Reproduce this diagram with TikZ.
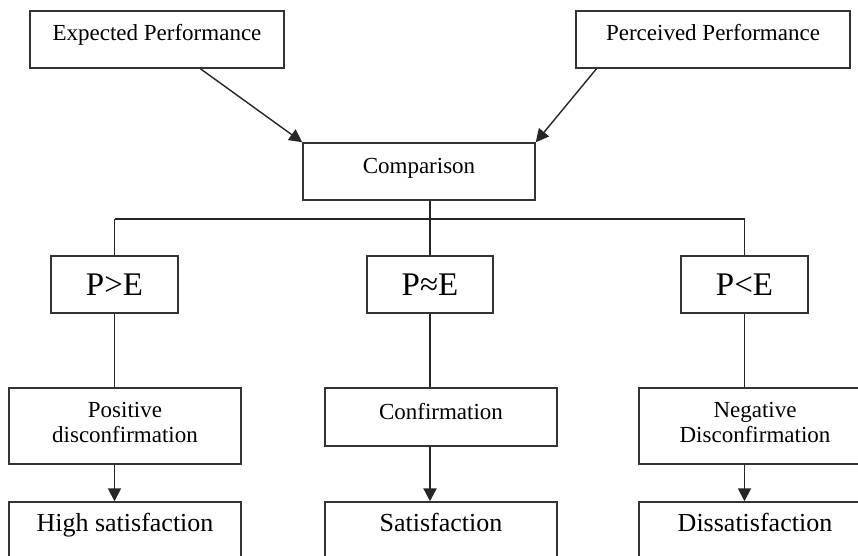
\documentclass[tikz,border=0pt]{standalone}
\usepackage{fontspec}
\setmainfont{Liberation Serif}
\usetikzlibrary{arrows.meta,calc}

\tikzset{
    box/.style={draw=black!80, line width=1.5pt, inner sep=0pt, align=center},
    smalltext/.style={font=\fontsize{23}{25}\selectfont},
    bigtext/.style={font=\fontsize{33}{34}\selectfont},
    endtext/.style={font=\fontsize{26}{28}\selectfont},
    link/.style={draw=black!85, line width=1.4pt},
    mainlink/.style={link, line width=2.2pt},
    arrow/.style={link, line width=1.8pt, -{Triangle[length=13pt,width=13pt]}}
}

\begin{document}
\begin{tikzpicture}[x=1pt, y=-1pt]
    \clip (0,0) rectangle (858,555);
    \fill[white] (0,0) rectangle (858,555);

    % top row
    \node[box, smalltext, minimum width=254pt, minimum height=57pt, text depth=14pt] (expected) at (157,39.5) {Expected Performance};
    \node[box, smalltext, minimum width=274pt, minimum height=57pt, text depth=14pt] (perceived) at (713,39.5) {Perceived Performance};
    \node[box, smalltext, minimum width=232pt, minimum height=57pt, text depth=11pt] (comparison) at (419,171.5) {Comparison};

    % relations
    \node[box, bigtext, minimum width=127pt, minimum height=57pt] (greater) at (114.5,284.5) {P>E};
    \node[box, bigtext, minimum width=126pt, minimum height=57pt] (equal) at (430,284.5) {P≈E};
    \node[box, bigtext, minimum width=127pt, minimum height=57pt] (less) at (744.5,284.5) {P<E};

    % disconfirmation
    \node[box, smalltext, minimum width=232pt, minimum height=76pt, text depth=8pt] (positive) at (125,426) {Positive\\disconfirmation};
    \node[box, smalltext, minimum width=232pt, minimum height=58pt, text depth=12pt] (confirm) at (441,417) {Confirmation};
    \node[box, smalltext, minimum width=232pt, minimum height=76pt, text depth=8pt] (negative) at (755,426) {Negative\\Disconfirmation};

    % outcomes
    \node[box, endtext, minimum width=232pt, minimum height=70pt, text depth=30pt] (high) at (125,537) {High satisfaction};
    \node[box, endtext, minimum width=232pt, minimum height=70pt, text depth=30pt] (satisfied) at (441,537) {Satisfaction};
    \node[box, endtext, minimum width=232pt, minimum height=70pt, text depth=30pt] (dissatisfied) at (755,537) {Dissatisfaction};

    % inputs to comparison
    \draw[arrow, line width=1.4pt] ($(expected.south west)!0.67!(expected.south east)$) -- (comparison.north west);
    \draw[arrow, line width=1.4pt] ($(perceived.south west)!0.077!(perceived.south east)$) -- (comparison.north east);

    % branching
    \coordinate (split) at ($(comparison.south -| equal.north)!0.34!(equal.north)$);
    \draw[mainlink] (comparison.south -| equal.north) -- (equal.north);
    \draw[link] (greater.north) -- (greater.north |- split);
    \draw[link] (less.north) -- (less.north |- split);
    \draw[mainlink] (greater.north |- split) -- (less.north |- split);

    \draw[link] (greater.south) -- (positive.north -| greater.south);
    \draw[mainlink] (equal.south) -- (confirm.north -| equal.south);
    \draw[link] (less.south) -- (negative.north -| less.south);

    \draw[arrow] (positive.south -| greater.south) -- (high.north -| greater.south);
    \draw[arrow, line width=2.2pt] (confirm.south -| equal.south) -- (satisfied.north -| equal.south);
    \draw[arrow] (negative.south -| less.south) -- (dissatisfied.north -| less.south);
\end{tikzpicture}
\end{document}
